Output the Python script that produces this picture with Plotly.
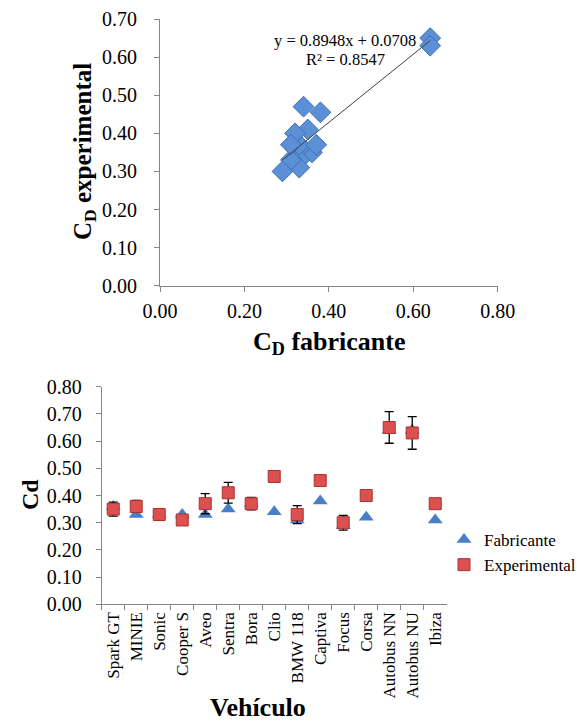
import plotly.graph_objects as go

# ---- data ----
vehicles = ["Spark GT", "MINIE", "Sonic", "Cooper S", "Aveo", "Sentra", "Bora", "Clio",
            "BMW 118", "Captiva", "Focus", "Corsa", "Autobus NN", "Autobus NU", "Ibiza"]
cd_fabricante = [0.36, 0.33, 0.33, 0.33, 0.33, 0.35, 0.37, 0.34,
                 0.31, 0.38, 0.29, 0.32, 0.64, 0.64, 0.31]
cd_experimental = [0.35, 0.36, 0.33, 0.31, 0.37, 0.41, 0.37, 0.47,
                   0.33, 0.455, 0.30, 0.40, 0.65, 0.63, 0.37]
cd_error = [0.026, 0.022, 0.02, 0.0, 0.037, 0.038, 0.023, 0.0,
            0.033, 0.0, 0.027, 0.0, 0.058, 0.06, 0.0]
trend_slope = 0.8948
trend_intercept = 0.0708
r_squared = 0.8547

FONT = "Liberation Serif"
AXC = "#868686"

fig = go.Figure()

# ---- top scatter ----
fig.add_trace(go.Scatter(
    x=cd_fabricante, y=cd_experimental, mode="markers",
    marker=dict(symbol="diamond", size=16, color="#5B8FD6",
                line=dict(color="#3F6FB5", width=1)),
    xaxis="x", yaxis="y", showlegend=False, hoverinfo="skip"))

xmin, xmax = min(cd_fabricante), max(cd_fabricante)
fig.add_trace(go.Scatter(
    x=[xmin, xmax],
    y=[trend_slope * xmin + trend_intercept, trend_slope * xmax + trend_intercept],
    mode="lines", line=dict(color="#404040", width=1),
    xaxis="x", yaxis="y", showlegend=False, hoverinfo="skip"))

# ---- bottom chart ----
fig.add_trace(go.Scatter(
    x=vehicles, y=cd_fabricante, mode="markers", name="Fabricante",
    marker=dict(symbol="triangle-up", size=13, color="#4A7EC8"),
    xaxis="x2", yaxis="y2"))
fig.add_trace(go.Scatter(
    x=vehicles, y=cd_experimental, mode="markers", name="Experimental",
    marker=dict(symbol="square", size=12, color="#DD5050",
                line=dict(color="#A83232", width=1)),
    error_y=dict(type="data", array=cd_error, visible=True,
                 color="black", thickness=1.3, width=4.5),
    xaxis="x2", yaxis="y2"))

axis_common = dict(showline=True, linecolor=AXC, linewidth=1, ticks="outside",
                   ticklen=5, tickcolor=AXC, showgrid=False, zeroline=False,
                   tickfont=dict(family=FONT, size=20, color="black"))


def ann(text, x, y, size, angle=0):
    return dict(text=text, x=x / 577, y=1 - y / 721, xref="paper", yref="paper",
                xanchor="center", yanchor="middle", showarrow=False, textangle=angle,
                font=dict(family=FONT, size=size, color="black"))


fig.update_layout(
    width=577, height=721,
    margin=dict(l=0, r=0, t=0, b=0, autoexpand=False),
    paper_bgcolor="white", plot_bgcolor="white",
    xaxis=dict(domain=[0.2773, 0.8626], range=[0, 0.8], dtick=0.2,
               tickformat=".2f", anchor="y", ticklabelstandoff=2, **axis_common),
    yaxis=dict(domain=[0.6037, 0.9736], range=[0, 0.7], dtick=0.1,
               tickformat=".2f", anchor="x", ticklabelstandoff=13, **axis_common),
    xaxis2=dict(domain=[0.1763, 0.7742], type="category", range=[-0.5, 14.5],
                categoryorder="array", categoryarray=vehicles,
                tickangle=-90, tickson="boundaries", anchor="y2",
                **{**axis_common, "tickfont": dict(family=FONT, size=17, color="black")}),
    yaxis2=dict(domain=[0.1618, 0.4637], range=[0, 0.8], dtick=0.1,
                tickformat=".2f", anchor="x2", ticklabelstandoff=10, **axis_common),
    legend=dict(x=0.7695, y=0.276, xanchor="left", yanchor="top",
                font=dict(family=FONT, size=17, color="black"),
                itemwidth=30, bgcolor="rgba(0,0,0,0)"),
    annotations=[
        ann(f"y = {trend_slope}x + {trend_intercept}", 345, 41, 16.5),
        ann(f"R² = {r_squared}", 345, 60, 16.5),
        ann("<b>C<sub>D</sub> fabricante</b>", 329, 343, 26),
        ann("<b>C<sub>D</sub> experimental</b>", 84, 152, 25, -90),
        ann("<b>Cd</b>", 30, 495, 24, -90),
        ann("<b>Vehículo</b>", 258, 707, 26),
    ],
)

fig.write_html("out.html")
